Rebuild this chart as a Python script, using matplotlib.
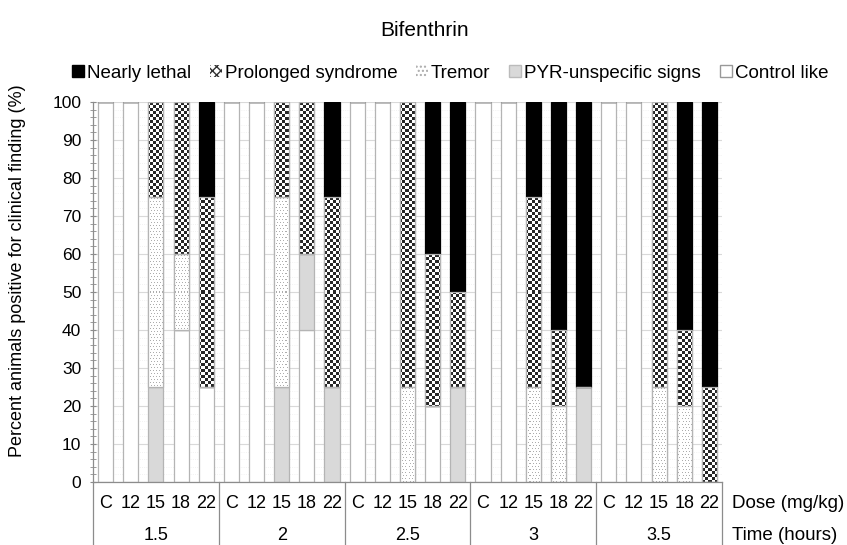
"""
Bifenthrin: stacked clinical findings per dose within each time point.
Five severity classes, Excel-style patterns (checker / dots) rebuilt with clipped images.
"""
import numpy as np
import matplotlib
matplotlib.use("Agg")
import matplotlib.pyplot as plt
from matplotlib.patches import Patch
from matplotlib.ticker import MultipleLocator

plt.rcParams["font.family"] = ["Liberation Sans", "DejaVu Sans"]

times = ["1.5", "2", "2.5", "3", "3.5"]
doses = ["C", "12", "15", "18", "22"]

# percent of animals per class, bars in order time -> dose
control_like = [100, 100, 0, 40, 25, 100, 100, 0, 40, 0, 100, 100, 0, 20, 0,
                100, 100, 0, 0, 0, 100, 100, 0, 0, 0]
pyr_unspecific = [0, 0, 25, 0, 0, 0, 0, 25, 20, 25, 0, 0, 0, 0, 25,
                  0, 0, 0, 0, 25, 0, 0, 0, 0, 0]
tremor = [0, 0, 50, 20, 0, 0, 0, 50, 0, 0, 0, 0, 25, 0, 0,
          0, 0, 25, 20, 0, 0, 0, 25, 20, 0]
prolonged = [0, 0, 25, 40, 50, 0, 0, 25, 40, 50, 0, 0, 75, 40, 25,
             0, 0, 50, 20, 0, 0, 0, 75, 20, 25]
nearly_lethal = [0, 0, 0, 0, 25, 0, 0, 0, 0, 25, 0, 0, 0, 40, 50,
                 0, 0, 25, 60, 75, 0, 0, 0, 60, 75]

W_PX, H_PX = 847, 545
AX_L, AX_R, AX_T, AX_B = 93, 722, 102, 482
EDGE = "#b4b4b4"
AXIS_GRAY = "#8c8c8c"

fig = plt.figure(figsize=(W_PX / 100, H_PX / 100), dpi=100)
ax = fig.add_axes([AX_L / W_PX, 1 - AX_B / H_PX, (AX_R - AX_L) / W_PX, (AX_B - AX_T) / H_PX])

n = len(times) * len(doses)
x = np.arange(n)
bw = 0.6

# pixel patterns for the Excel fills
pw, ph = AX_R - AX_L, AX_B - AX_T
yy, xx = np.mgrid[0:ph, 0:pw]
checker = np.ones((ph, pw, 3))
checker[((yy // 3 + xx // 3) % 2) == 1] = 0.15
dots = np.ones((ph, pw, 3))
dots[(yy % 3 == 1) & ((xx + (yy // 3) % 2) % 3 == 1)] = 0.68

ext = (-0.5, n - 0.5, 0, 100)
bottom = np.zeros(n)
series = [
    (control_like, "white", None),
    (pyr_unspecific, "#d9d9d9", None),
    (tremor, "white", dots),
    (prolonged, "white", checker),
    (nearly_lethal, "black", None),
]
for vals, fc, pattern in series:
    vals = np.array(vals, dtype=float)
    bars = ax.bar(x, vals, bw, bottom=bottom, color=fc,
                  edgecolor="black" if fc == "black" else EDGE, linewidth=0.9, zorder=2)
    if pattern is not None:
        for p, v in zip(bars.patches, vals):
            if v <= 0:
                continue
            im = ax.imshow(pattern, extent=ext, interpolation="nearest", aspect="auto", zorder=2.1)
            im.set_clip_path(p)
        ax.bar(x, vals, bw, bottom=bottom, fill=False, edgecolor=EDGE, linewidth=0.9, zorder=2.2)
    bottom += vals

ax.set_xlim(-0.5, n - 0.5)
ax.set_ylim(0, 100)

ax.yaxis.set_major_locator(MultipleLocator(10))
ax.yaxis.set_minor_locator(MultipleLocator(2))
ax.grid(True, axis="y", which="major", color="#d9d9d9", linewidth=0.8, zorder=0)
ax.grid(True, axis="y", which="minor", color="#eeeeee", linewidth=0.6, linestyle=":", zorder=0)
ax.set_axisbelow(True)
ax.tick_params(axis="y", which="major", length=5, direction="inout", color=AXIS_GRAY,
               labelsize=12.5, pad=6)
ax.tick_params(axis="y", which="minor", length=4, direction="inout", color=AXIS_GRAY)
ax.set_xticks([])
for s in ["top", "right"]:
    ax.spines[s].set_visible(False)
for s in ["left", "bottom"]:
    ax.spines[s].set_color(AXIS_GRAY)
    ax.spines[s].set_linewidth(0.9)

# two-level category axis drawn by hand
trans = ax.get_xaxis_transform()
dose_y = (AX_B - 503) / (AX_B - AX_T)
time_y = (AX_B - 535) / (AX_B - AX_T)
for i in range(n):
    ax.text(x[i], dose_y, doses[i % len(doses)], transform=trans,
            ha="center", va="center", fontsize=13)
for g, t in enumerate(times):
    ax.text(g * len(doses) + 2, time_y, t, transform=trans, ha="center", va="center", fontsize=13)
for g in range(len(times) + 1):
    ax.plot([g * len(doses) - 0.5] * 2, [0, -0.3], transform=trans, color=AXIS_GRAY,
            linewidth=0.9, clip_on=False)
ax.text(1.016, dose_y, "Dose (mg/kg)", transform=ax.transAxes, ha="left", va="center", fontsize=13.5)
ax.text(1.016, time_y, "Time (hours)", transform=ax.transAxes, ha="left", va="center", fontsize=13.5)

fig.text(18 / W_PX, 1 - 271 / H_PX, "Percent animals positive for clinical finding (%)",
         rotation=90, ha="center", va="center", fontsize=13)
fig.text(425 / W_PX, 1 - 30 / H_PX, "Bifenthrin", ha="center", va="center", fontsize=15)

handles = [
    Patch(facecolor="black", edgecolor="black", label="Nearly lethal"),
    Patch(facecolor="white", edgecolor="#333333", hatch="xxxx", linewidth=0, label="Prolonged syndrome"),
    Patch(facecolor="white", edgecolor="#aaaaaa", hatch="....", linewidth=0, label="Tremor"),
    Patch(facecolor="#d9d9d9", edgecolor="#bbbbbb", label="PYR-unspecific signs"),
    Patch(facecolor="white", edgecolor="#999999", label="Control like"),
]
fig.legend(handles=handles, loc="center", bbox_to_anchor=(450 / W_PX, 1 - 73 / H_PX), ncol=5,
           frameon=False, fontsize=13.5, handlelength=0.65, handleheight=0.65,
           handletextpad=0.15, columnspacing=1.0, borderaxespad=0)

fig.savefig("out.png", dpi=100)
plt.close(fig)
